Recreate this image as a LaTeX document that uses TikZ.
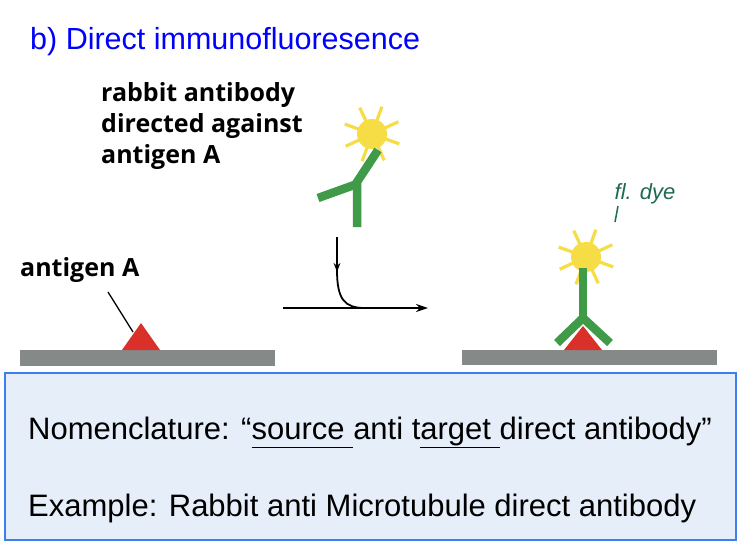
\documentclass[tikz,border=0pt]{standalone}
\usepackage{fontspec}
\setmainfont{Liberation Sans}
\newfontfamily\lab{Open Sans}
\usetikzlibrary{arrows.meta}
\definecolor{ab}{HTML}{3F9B48}
\definecolor{sun}{HTML}{F7DD45}
\definecolor{ag}{HTML}{D9302A}
\definecolor{bar}{HTML}{858A89}
\definecolor{boxf}{HTML}{E6EEF9}
\definecolor{boxd}{HTML}{3D7EF0}
\definecolor{pen}{HTML}{1F6B4E}
\begin{document}
\begin{tikzpicture}[x=1pt,y=-1pt,
  lbl/.style={font=\lab\bfseries\fontsize{25}{31}\selectfont,align=left,anchor=north west,inner sep=0},
  arm/.style={draw=ab,line width=8.5pt},
  ray/.style={sun,line width=3.2pt},
  txt/.style={font=\fontsize{31}{36}\selectfont,anchor=west,inner sep=0}]
\useasboundingbox (0,0) rectangle (754,552);
\fill[white] (0,0) rectangle (754,552);
\node[anchor=west,inner sep=0,text=blue,font=\fontsize{30.5}{36}\selectfont] (title) at (30,42) {b) Direct immunofluoresence};
\node[lbl] (rab) at (101,82) {rabbit antibody\\directed against\\antigen A};
\node[lbl] (agl) at (20,257) {antigen A};
% bars
\fill[bar] (20,350) rectangle (275,366);
\fill[bar] (462,350) rectangle (717,365);
\fill[ag] (122,350) -- (141,323) -- (160,350) -- cycle;
\coordinate (p1) at (108,292); \coordinate (p2) at (133,332);
\draw[line width=1.3pt] (p1) -- (p2);
% left antibody
\coordinate (s1) at (372,134);
\foreach \a in {0,45,...,315}{\draw[ray] (s1) ++(\a+20:12) -- ++(\a+20:17);}
\fill[sun] (s1) circle (15);
\draw[arm] (357,227) -- (357,182) -- (378,150);
\draw[arm] (357,184) -- (318,198);
% arrow
\coordinate (a1) at (337,237); \coordinate (a2) at (283,308); \coordinate (a3) at (428,308);
\draw[line width=1.8pt,-{Stealth[length=9pt]}] (a1) -- (337,272);
\draw[line width=1.8pt] (337,270) .. controls (337,300) and (345,308) .. (365,308);
\draw[line width=1.8pt,-{Stealth[length=12pt,width=8pt]}] (a2) -- (a3);
% right antibody
\coordinate (s2) at (586,257);
\foreach \a in {0,45,...,315}{\draw[ray] (s2) ++(\a+20:12) -- ++(\a+20:17);}
\fill[sun] (s2) circle (15);
\draw[arm] (583,268) -- (583,320);
\draw[arm,line join=miter] (557,343) -- (583,318) -- (610,343);
\fill[ag] (564,350) -- (583,326) -- (602,350) -- cycle;
% handwriting
\node[text=pen,font=\itshape\fontsize{22}{24}\selectfont,inner sep=0] (dye) at (645,194) {fl. dye};
\draw[pen,line width=1.5pt] (618,206) -- (615,222);
% box
\draw[boxd,fill=boxf,line width=1.5pt] (5,373) rectangle (736,540);
\node[txt] (n1) at (28,432) {Nomenclature: “\underline{\vphantom{g}source }anti t\underline{arget }direct antibody”};
\node[txt] (n2) at (28,508) {Example: Rabbit anti Microtubule direct antibody};
\end{tikzpicture}
\end{document}
